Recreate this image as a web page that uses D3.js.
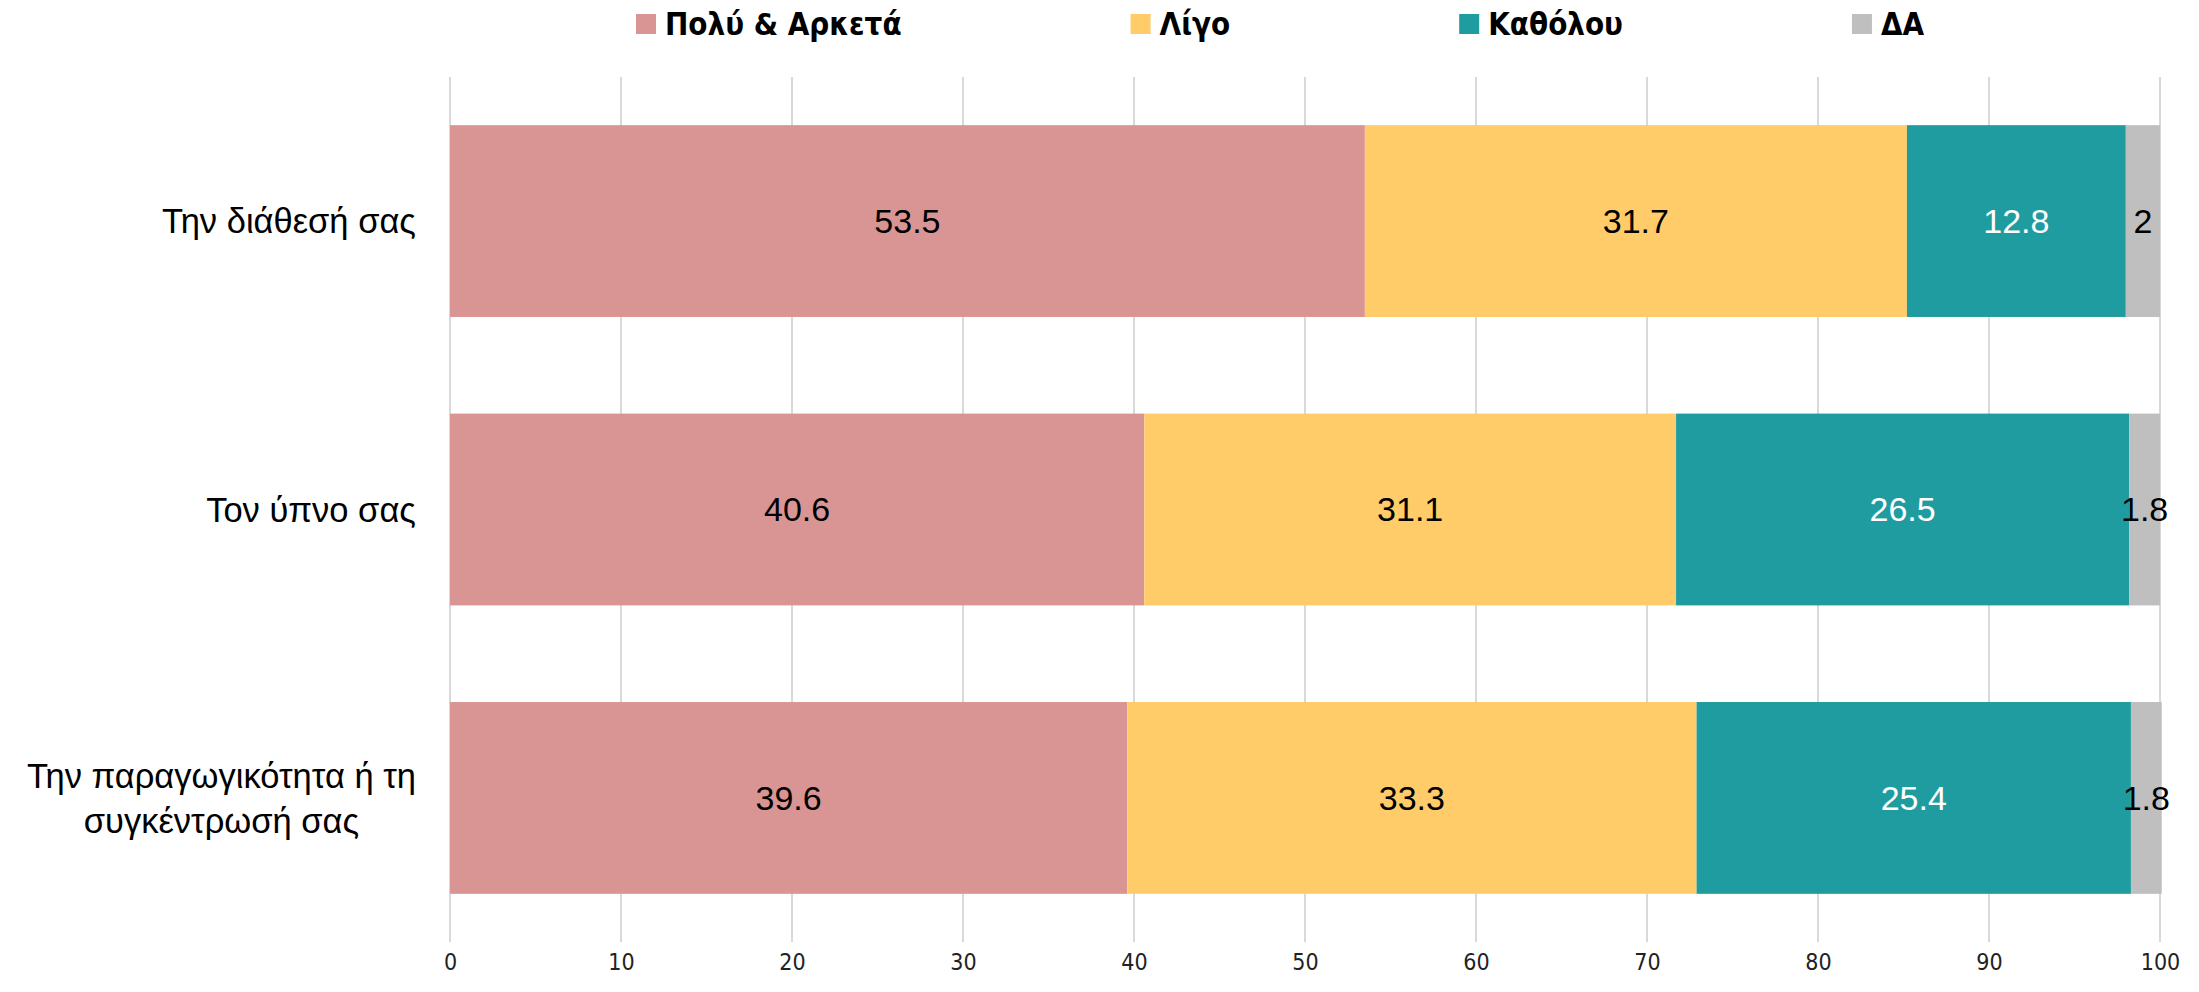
<!DOCTYPE html>
<html>
<head>
<meta charset="utf-8">
<script src="https://cdn.jsdelivr.net/npm/d3@7"></script>
<style>
  body { margin: 0; background: #fff; }
  svg { display: block; }
</style>
</head>
<body>
<svg></svg>
<script>
// Chart data
const categories = ["Την διάθεσή σας", "Τον ύπνο σας", "Την παραγωγικότητα ή τη\nσυγκέντρωσή σας"];
const seriesNames = ["Πολύ & Αρκετά", "Λίγο", "Καθόλου", "ΔΑ"];
const seriesColors = ["#D99594", "#FFCC69", "#1F9C9F", "#BFBFBF"];
const labelColors = ["#000", "#000", "#fff", "#000"];
const polyArketa = [53.5, 40.6, 39.6];
const ligo = [31.7, 31.1, 33.3];
const katholou = [12.8, 26.5, 25.4];
const da = [2, 1.8, 1.8];
const xTicks = [0, 10, 20, 30, 40, 50, 60, 70, 80, 90, 100];

const width = 2199;
const height = 992;
const margin = { top: 77, right: 39, bottom: 50, left: 450 };

const svg = d3.select("svg")
    .attr("width", width)
    .attr("height", height);

// Build rows for the stack
const rows = categories.map(function(c, i) {
    return { cat: c, s0: polyArketa[i], s1: ligo[i], s2: katholou[i], s3: da[i] };
});
const stack = d3.stack().keys(["s0", "s1", "s2", "s3"]);
const stacked = stack(rows);

const x = d3.scaleLinear()
    .domain([0, 100])
    .range([margin.left, width - margin.right]);

const y = d3.scaleBand()
    .domain(categories)
    .range([margin.top, height - margin.bottom])
    .paddingInner(0.335)
    .paddingOuter(0.167);

// Gridlines
svg.append("g")
    .selectAll("line")
    .data(xTicks)
    .enter().append("line")
    .attr("x1", d => x(d))
    .attr("x2", d => x(d))
    .attr("y1", margin.top)
    .attr("y2", height - margin.bottom)
    .attr("stroke", "#d9d9d9")
    .attr("stroke-width", 2);

// Tick labels (no axis line)
const xAxis = d3.axisBottom(x).tickValues(xTicks).tickSize(0).tickPadding(0);
const gx = svg.append("g")
    .attr("transform", "translate(0," + (height - 30) + ")")
    .call(xAxis);
gx.select(".domain").remove();
gx.selectAll("text")
    .attr("dy", "0.35em")
    .attr("font-family", "'Liberation Sans Narrow', 'Arial Narrow', 'DejaVu Sans Condensed', sans-serif")
    .attr("font-size", 23)
    .attr("fill", "#222");

// Bars
const layer = svg.selectAll("g.layer")
    .data(stacked)
    .enter().append("g")
    .attr("class", "layer")
    .attr("fill", (d, i) => seriesColors[i]);

layer.selectAll("rect")
    .data(d => d)
    .enter().append("rect")
    .attr("x", d => x(d[0]))
    .attr("y", d => y(d.data.cat))
    .attr("width", d => x(d[1]) - x(d[0]))
    .attr("height", y.bandwidth());

// Value labels
layer.each(function(ser, si) {
    d3.select(this).selectAll("text")
        .data(ser)
        .enter().append("text")
        .attr("x", d => (x(d[0]) + x(d[1])) / 2)
        .attr("y", d => y(d.data.cat) + y.bandwidth() / 2)
        .attr("dy", "0.35em")
        .attr("text-anchor", "middle")
        .attr("font-family", "'Liberation Sans', Arial, sans-serif")
        .attr("font-size", 34)
        .attr("fill", labelColors[si])
        .text(d => d.data["s" + si]);
});

// Category labels, right-aligned block, centred lines
const labelRight = 416;
categories.forEach(function(c) {
    const lines = c.split("\n");
    const lh = 45;
    const cy = y(c) + y.bandwidth() / 2;
    const t = svg.append("text")
        .attr("font-family", "'Liberation Sans', Arial, sans-serif")
        .attr("font-size", 34.5)
        .attr("fill", "#000")
        .attr("text-anchor", "middle");
    lines.forEach(function(l, i) {
        t.append("tspan")
            .attr("x", 0)
            .attr("y", cy + (i - (lines.length - 1) / 2) * lh)
            .attr("dy", "0.35em")
            .text(l);
    });
    const bb = t.node().getBBox();
    t.attr("transform", "translate(" + (labelRight - (bb.x + bb.width)) + ",0)");
});

// Legend: equal gaps between items
const legend = svg.append("g");
let lx = 636;
const legendGap = 229;
seriesNames.forEach(function(name, i) {
    legend.append("rect")
        .attr("x", lx)
        .attr("y", 14)
        .attr("width", 20)
        .attr("height", 20)
        .attr("fill", seriesColors[i]);
    const t = legend.append("text")
        .attr("x", lx + 29)
        .attr("y", 24)
        .attr("dy", "0.35em")
        .attr("font-family", "'Liberation Sans Narrow', 'Arial Narrow', 'DejaVu Sans Condensed', sans-serif")
        .attr("font-weight", "bold")
        .attr("font-size", 31)
        .attr("fill", "#000")
        .text(name);
    lx = lx + 29 + t.node().getComputedTextLength() + legendGap;
});
</script>
</body>
</html>
